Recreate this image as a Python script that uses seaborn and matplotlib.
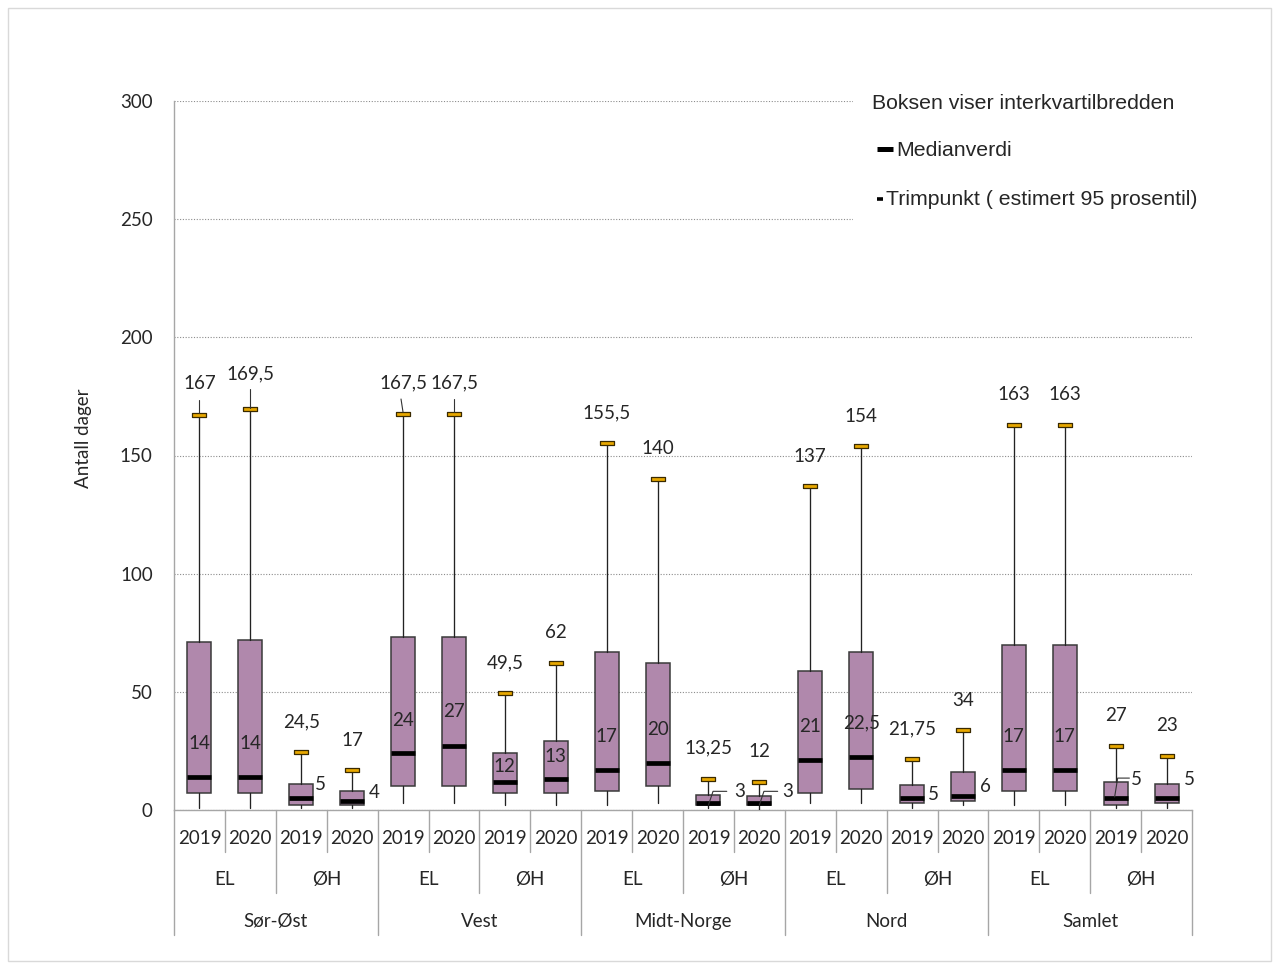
import matplotlib.pyplot as plt
import matplotlib.patches as mpatches
import matplotlib.lines as mlines
import matplotlib.transforms as mtransforms
import pandas as pd
import seaborn as sns

# Category levels (outer -> inner)
regions = ["Sør-Øst", "Vest", "Midt-Norge", "Nord", "Samlet"]
types = ["EL", "ØH"]
years = ["2019", "2020"]

# Box statistics, in order region > type > year
low = [1, 1, 1, 1, 3, 3, 2, 2, 2, 3, 1, 0, 3, 3, 1, 2, 2, 2, 1, 1]
q1 = [7, 7, 2, 2, 10, 10, 7, 7, 8, 10, 2, 2, 7, 9, 3, 4, 8, 8, 2, 3]
median = [14, 14, 5, 4, 24, 27, 12, 13, 17, 20, 3, 3, 21, 22.5, 5, 6, 17, 17, 5, 5]
q3 = [71, 72, 11, 8, 73, 73, 24, 29, 67, 62, 6.5, 6, 59, 67, 10.5, 16, 70, 70, 12, 11]
trim = [167, 169.5, 24.5, 17, 167.5, 167.5, 49.5, 62, 155.5, 140, 13.25, 12,
        137, 154, 21.75, 34, 163, 163, 27, 23]

# label placement (offsets from the values above)
trim_dy = [13.5, 15, 12.9, 12.6, 13.3, 13.3, 12.9, 12.9, 12.4, 12.9, 13, 12.7,
           12.4, 12.7, 12.4, 12.3, 12.6, 12.6, 12.8, 12.7]
med_dx = [0, 0, 0.38, 0.43, 0, 0, 0, 0, 0, 0, 0.62, 0.56, 0, 0, 0.42, 0.45, 0, 0, 0.4, 0.45]
med_dy = [14.3, 14.3, 5.9, 3.2, 14, 14.6, 6.3, 9.6, 14, 14.1, 4.7, 4.7,
          14.3, 14.5, 1.6, 4, 14.3, 14.3, 7.7, 7.7]

BOX_COLOR = "#B088AC"
CAP_COLOR = "#E8A800"
SEP_COLOR = "#A6A6A6"


def fmt(v):
    return f"{v:g}".replace(".", ",")


sns.set_style("white")
plt.rcParams["font.family"] = ["Lato", "DejaVu Sans"]

W, H = 1279, 969
fig = plt.figure(figsize=(W / 100, H / 100), dpi=100)
ax = fig.add_axes([174 / W, 1 - 810 / H, 1018 / W, 709 / H])

n = len(median)
pos = list(range(n))

stats = [
    dict(whislo=low[i], q1=q1[i], med=median[i], q3=q3[i], whishi=trim[i], fliers=[])
    for i in pos
]
ax.bxp(
    stats,
    positions=pos,
    widths=0.47,
    patch_artist=True,
    showcaps=False,
    showfliers=False,
    boxprops=dict(facecolor=BOX_COLOR, edgecolor="#3a3a3a", linewidth=1.1),
    medianprops=dict(color="black", linewidth=3.4, solid_capstyle="butt"),
    whiskerprops=dict(color="#222222", linewidth=0.95),
    zorder=3,
)

# trim points as small outlined bars
caps = pd.DataFrame({"pos": pos, "trim": trim})
sns.scatterplot(
    data=caps,
    x="pos",
    y="trim",
    marker=[(-1, -0.22), (1, -0.22), (1, 0.22), (-1, 0.22), (-1, -0.22)],
    s=100,
    color=CAP_COLOR,
    edgecolor="#3a2a00",
    linewidth=0.9,
    legend=False,
    zorder=4,
    ax=ax,
)

ax.set_xlim(-0.5, n - 0.5)
ax.set_ylim(0, 300)
ax.set_yticks(range(0, 301, 50))
ax.set_xticks([])
ax.set_xlabel("")
ax.set_ylabel("")
ax.yaxis.grid(True, color="#8c8c8c", linestyle=(0, (1, 1.5)), linewidth=0.8)
ax.set_axisbelow(True)
for side in ["top", "right"]:
    ax.spines[side].set_visible(False)
for side in ["left", "bottom"]:
    ax.spines[side].set_color(SEP_COLOR)
    ax.spines[side].set_linewidth(1)
ax.tick_params(axis="y", length=4.3, color=SEP_COLOR, pad=11, labelsize=13.5)

# data labels
for i in pos:
    ax.text(i, trim[i] + trim_dy[i], fmt(trim[i]), ha="center", va="center",
            fontsize=13.5, zorder=5)
    ax.text(i + med_dx[i], median[i] + med_dy[i], fmt(median[i]), ha="center",
            va="center", fontsize=13.5, zorder=5)

# leader lines
lead = dict(color="#333333", linewidth=0.8, zorder=5)
for i, top, dx in [(0, 6.3, 0), (1, 8.7, 0), (4, 6.4, -0.04), (5, 6.6, 0)]:
    ax.plot([i, i + dx], [trim[i] + 0.8, trim[i] + top], **lead)
for i in [10, 11]:
    ax.plot([i, i + 0.09, i + 0.36], [2.1, 7.9, 7.9], **lead)
ax.plot([18 - 0.02, 18 + 0.04, 18 + 0.27], [5.5, 13.5, 13.5], **lead)

# multi-level category axis
trans = mtransforms.blended_transform_factory(ax.transData, ax.transAxes)
row_year, row_type, row_reg = -0.0395, -0.0987, -0.1566
sep_year, sep_type, sep_reg = -0.059, -0.117, -0.176
for i in pos:
    ax.text(i, row_year, years[i % 2], transform=trans, ha="center", va="center",
            fontsize=13.5)
for g in range(n // 2):
    ax.text(2 * g + 0.5, row_type, types[g % 2], transform=trans, ha="center",
            va="center", fontsize=13.5)
for r, name in enumerate(regions):
    ax.text(4 * r + 1.5, row_reg, name, transform=trans, ha="center", va="center",
            fontsize=13.5)
for b in range(n + 1):
    x = b - 0.5
    if b % 4 == 0:
        y1 = sep_reg
    elif b % 2 == 0:
        y1 = sep_type
    else:
        y1 = sep_year
    ax.plot([x, x], [0, y1], transform=trans, color=SEP_COLOR, linewidth=1,
            clip_on=False)

fig.text(83 / W, 1 - 438 / H, "Antall dager", rotation=90, ha="center",
         va="center", fontsize=13.5)

# legend area
fig.patches.append(mpatches.Rectangle((853 / W, 1 - 232 / H), 360 / W, 170 / H,
                                      transform=fig.transFigure, facecolor="white",
                                      edgecolor="none", zorder=1))
leg_font = dict(fontfamily=["Liberation Sans", "DejaVu Sans"], fontsize=15.3,
                va="center", zorder=2)
fig.text(872 / W, 1 - 103.5 / H, "Boksen viser interkvartilbredden", **leg_font)
fig.lines.append(mlines.Line2D([876.5 / W, 893 / W], [1 - 149.5 / H] * 2,
                               color="black", linewidth=3.6,
                               solid_capstyle="butt", transform=fig.transFigure))
fig.text(896.5 / W, 1 - 151 / H, "Medianverdi", **leg_font)
fig.lines.append(mlines.Line2D([877 / W, 882.5 / W], [1 - 199 / H] * 2,
                               color="black", linewidth=2.6,
                               solid_capstyle="butt", transform=fig.transFigure))
fig.text(886 / W, 1 - 199.5 / H, "Trimpunkt ( estimert 95 prosentil)", **leg_font)

# chart border
fig.patches.append(mpatches.Rectangle((8 / W, 8 / H), 1263 / W, 953 / H,
                                      transform=fig.transFigure, facecolor="none",
                                      edgecolor="#D9D9D9", linewidth=1, zorder=0))

fig.savefig("out.png", dpi=100)
